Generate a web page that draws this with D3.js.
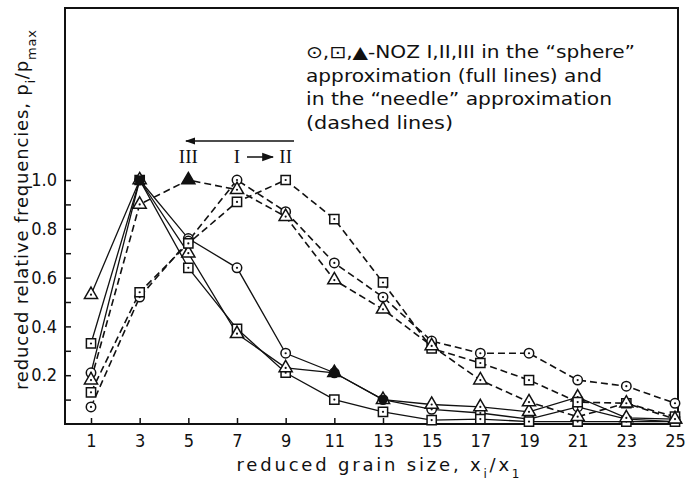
<!DOCTYPE html>
<html>
<head>
<meta charset="utf-8">
<script src="https://cdn.jsdelivr.net/npm/d3@7"></script>
<style>
body { margin: 0; background: #fff; }
text { font-family: "DejaVu Sans", sans-serif; fill: #111; }
</style>
</head>
<body>
<div id="chart"></div>
<script>
// grain size classes
var sizes = [1, 3, 5, 7, 9, 11, 13, 15, 17, 19, 21, 23, 25];
// "sphere" approximation (full lines)
var sphereI   = [0.21, 1.0, 0.76, 0.64, 0.29, 0.21, 0.10, 0.06, 0.045, 0.02, 0.07, 0.02, 0.01];
var sphereII  = [0.33, 1.0, 0.64, 0.39, 0.21, 0.10, 0.05, 0.016, 0.02, 0.01, 0.01, 0.01, 0.01];
var sphereIII = [0.53, 1.0, 0.70, 0.37, 0.23, 0.21, 0.10, 0.08, 0.07, 0.05, 0.11, 0.025, 0.02];
// "needle" approximation (dashed lines)
var needleI   = [0.07, 0.52, 0.75, 1.0, 0.87, 0.66, 0.52, 0.34, 0.29, 0.29, 0.18, 0.155, 0.085];
var needleII  = [0.13, 0.54, 0.74, 0.91, 1.0, 0.84, 0.58, 0.31, 0.25, 0.18, 0.09, 0.085, 0.03];
var needleIII = [0.18, 0.90, 1.0, 0.96, 0.85, 0.59, 0.47, 0.32, 0.18, 0.09, 0.03, 0.085, 0.02];

var xTicks = [1, 3, 5, 7, 9, 11, 13, 15, 17, 19, 21, 23, 25];
var yTicks = [0.1, 0.2, 0.3, 0.4, 0.5, 0.6, 0.7, 0.8, 0.9, 1.0];
var yLabels = [0.2, 0.4, 0.6, 0.8, 1.0];

var svgWidth = 689, svgHeight = 484;
var frame = {left: 65, top: 8, right: 678, bottom: 424};

var svg = d3.select("#chart").append("svg")
  .attr("width", svgWidth)
  .attr("height", svgHeight);

var x = d3.scaleLinear().domain([1, 25]).range([91, 675]);
var y = d3.scaleLinear().domain([0, 1]).range([frame.bottom, 180]);

// frame
svg.append("rect")
  .attr("x", frame.left).attr("y", frame.top)
  .attr("width", frame.right - frame.left)
  .attr("height", frame.bottom - frame.top)
  .attr("fill", "none").attr("stroke", "#111").attr("stroke-width", 2);

// axes with inward ticks
var xAxis = d3.axisBottom(x).tickValues(xTicks).tickSize(-6).tickPadding(10).tickFormat(d3.format("d"));
var gx = svg.append("g").attr("transform", "translate(0," + frame.bottom + ")").call(xAxis);
gx.select(".domain").remove();

var yAxis = d3.axisLeft(y).tickValues(yTicks).tickSize(-6).tickPadding(8)
  .tickFormat(function(d) { return yLabels.some(function(v) { return Math.abs(v - d) < 1e-6; }) ? d.toFixed(1) : ""; });
var gy = svg.append("g").attr("transform", "translate(" + frame.left + ",0)").call(yAxis);
gy.select(".domain").remove();

svg.selectAll(".tick line").attr("stroke", "#111").attr("stroke-width", 1.5);
svg.selectAll(".tick text").style("font-size", "18px").style("font-family", "DejaVu Sans Condensed, DejaVu Sans, sans-serif").attr("fill", "#111");

// lines
var series = [
  {vals: sphereI, mark: "circle", dash: null},
  {vals: sphereII, mark: "square", dash: null},
  {vals: sphereIII, mark: "triangle", dash: null},
  {vals: needleI, mark: "circle", dash: "7,4"},
  {vals: needleII, mark: "square", dash: "7,4"},
  {vals: needleIII, mark: "triangle", dash: "7,4"}
];

var line = d3.line()
  .x(function(d, i) { return x(sizes[i]); })
  .y(function(d) { return y(d); });

series.forEach(function(s) {
  svg.append("path")
    .attr("d", line(s.vals))
    .attr("fill", "none")
    .attr("stroke", "#111")
    .attr("stroke-width", s.dash ? 1.6 : 1.3)
    .attr("stroke-dasharray", s.dash);
});

var sym = {
  circle: d3.symbol().type(d3.symbolCircle).size(70),
  square: d3.symbol().type(d3.symbolSquare).size(85),
  triangle: d3.symbol().type(d3.symbolTriangle).size(75)
};

series.forEach(function(s) {
  var g = svg.append("g");
  g.selectAll("path")
    .data(s.vals)
    .enter()
    .append("path")
    .attr("d", sym[s.mark]())
    .attr("transform", function(d, i) { return "translate(" + x(sizes[i]) + "," + y(d) + ")"; })
    .attr("fill", "#fff")
    .attr("stroke", "#111")
    .attr("stroke-width", 1.5);
  g.selectAll("circle")
    .data(s.vals)
    .enter()
    .append("circle")
    .attr("cx", function(d, i) { return x(sizes[i]); })
    .attr("cy", function(d) { return y(d); })
    .attr("r", 1.1)
    .attr("fill", "#111");
});

// a few overlapping markers look solid black in the figure
svg.append("path").attr("d", sym.square())
  .attr("transform", "translate(" + x(3) + "," + y(1.0) + ")").attr("fill", "#111");
svg.append("path").attr("d", sym.triangle())
  .attr("transform", "translate(" + x(5) + "," + y(1.0) + ")").attr("fill", "#111");
svg.append("path").attr("d", sym.triangle())
  .attr("transform", "translate(" + x(11) + "," + y(0.21) + ")").attr("fill", "#111");
svg.append("path").attr("d", sym.circle())
  .attr("transform", "translate(" + x(13) + "," + y(0.10) + ")").attr("fill", "#111");

// roman numerals and arrows
var serif = "Liberation Serif, DejaVu Serif, serif";
svg.append("text").attr("x", x(5)).attr("y", 163).attr("text-anchor", "middle")
  .style("font-family", serif).style("font-size", "19px").text("III");
svg.append("text").attr("x", x(7)).attr("y", 163).attr("text-anchor", "middle")
  .style("font-family", serif).style("font-size", "19px").text("I");
svg.append("text").attr("x", x(9)).attr("y", 163).attr("text-anchor", "middle")
  .style("font-family", serif).style("font-size", "19px").text("II");

svg.append("defs").append("marker")
  .attr("id", "head").attr("viewBox", "0 0 10 10")
  .attr("refX", 9).attr("refY", 5)
  .attr("markerWidth", 8).attr("markerHeight", 8)
  .attr("orient", "auto-start-reverse")
  .append("path").attr("d", "M0,1.5L10,5L0,8.5Z").attr("fill", "#111");

svg.append("line").attr("x1", 247).attr("y1", 157).attr("x2", 273).attr("y2", 157)
  .attr("stroke", "#111").attr("stroke-width", 1.5).attr("marker-end", "url(#head)");
svg.append("line").attr("x1", 294).attr("y1", 141).attr("x2", 186).attr("y2", 141)
  .attr("stroke", "#111").attr("stroke-width", 1.3).attr("marker-end", "url(#head)");

// legend note
var note = [
  "\u2299,\u22A1,\u25B2-NOZ I,II,III in the \u201Csphere\u201D",
  "approximation (full lines) and",
  "in the \u201Cneedle\u201D approximation",
  "(dashed lines)"
];
var noteWidths = [329, 296, 306, 147];
svg.selectAll(".note")
  .data(note)
  .enter()
  .append("text")
  .attr("class", "note")
  .attr("x", 306)
  .attr("y", function(d, i) { return 58 + i * 23.5; })
  .attr("textLength", function(d, i) { return noteWidths[i]; })
  .attr("lengthAdjust", "spacingAndGlyphs")
  .style("font-size", "17px")
  .text(function(d) { return d; });

// axis titles
var xt = svg.append("text").attr("x", 378).attr("y", 471).attr("text-anchor", "middle")
  .attr("textLength", 283).attr("lengthAdjust", "spacing")
  .style("font-size", "18px");
xt.append("tspan").text("reduced grain size, x");
xt.append("tspan").attr("baseline-shift", "sub").style("font-size", "12px").text("i");
xt.append("tspan").text("/x");
xt.append("tspan").attr("baseline-shift", "sub").style("font-size", "12px").text("1");

var yt = svg.append("text").attr("transform", "translate(28,210) rotate(-90)")
  .attr("text-anchor", "middle")
  .attr("textLength", 360).attr("lengthAdjust", "spacing")
  .style("font-size", "18px");
yt.append("tspan").text("reduced relative frequencies, p");
yt.append("tspan").attr("baseline-shift", "sub").style("font-size", "12px").text("i");
yt.append("tspan").text("/p");
yt.append("tspan").attr("baseline-shift", "sub").style("font-size", "13px").text("max");
</script>
</body>
</html>
